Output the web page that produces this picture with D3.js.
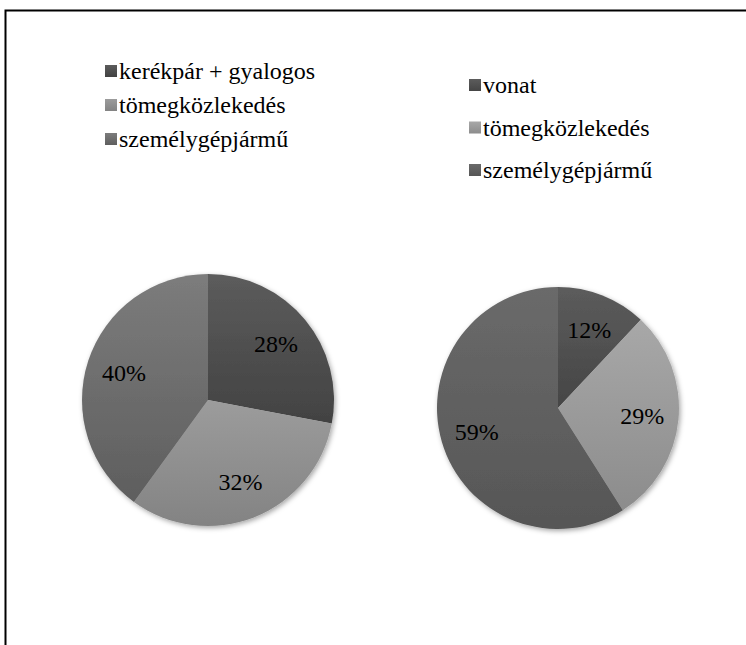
<!DOCTYPE html>
<html>
<head>
<meta charset="utf-8">
<script src="https://cdn.jsdelivr.net/npm/d3@7"></script>
<style>
html,body{margin:0;padding:0;background:#fff;}
svg{display:block;}
</style>
</head>
<body>
<script>
const leftCategories = ["kerékpár + gyalogos", "tömegközlekedés", "személygépjármű"];
const leftValues = [28, 32, 40];
const rightCategories = ["vonat", "tömegközlekedés", "személygépjármű"];
const rightValues = [12, 29, 59];
const leftColors = [["#5c5c5c", "#424242"], ["#9c9c9c", "#838383"], ["#7c7c7c", "#5e5e5e"]];
const rightColors = [["#5c5c5c", "#454545"], ["#a8a8a8", "#8c8c8c"], ["#6a6a6a", "#565656"]];

const FONT = '"Liberation Serif", serif';
const W = 746, H = 645;
const svg = d3.select("body").append("svg").attr("width", W).attr("height", H);
const defs = svg.append("defs");

const f = defs.append("filter").attr("id", "shadow").attr("x", "-20%").attr("y", "-20%").attr("width", "140%").attr("height", "140%");
f.append("feDropShadow").attr("dx", 1.5).attr("dy", 2).attr("stdDeviation", 2.5).attr("flood-color", "#000").attr("flood-opacity", 0.35);

function grad(id, c) {
  const g = defs.append("linearGradient").attr("id", id).attr("x1", 0).attr("y1", 0).attr("x2", 0).attr("y2", 1);
  g.append("stop").attr("offset", "0%").attr("stop-color", c[0]);
  g.append("stop").attr("offset", "100%").attr("stop-color", c[1]);
}

svg.append("rect").attr("x", 5.5).attr("y", 10.5).attr("width", W + 20).attr("height", H + 20)
  .attr("fill", "none").attr("stroke", "#000").attr("stroke-width", 2);

function drawPie(prefix, cats, vals, colors, cx, cy, r, legend) {
  cats.forEach((c, i) => grad(prefix + "g" + i, colors[i]));
  const pie = d3.pie().sort(null).value(d => d)(vals);
  const arc = d3.arc().innerRadius(0).outerRadius(r);
  const labArc = d3.arc().innerRadius(r * 0.7).outerRadius(r * 0.7);
  const g = svg.append("g").attr("transform", `translate(${cx},${cy})`);
  const gp = g.append("g").attr("filter", "url(#shadow)");
  gp.selectAll("path").data(pie).join("path")
    .attr("d", arc)
    .attr("fill", (d, i) => `url(#${prefix}g${i})`);
  g.selectAll("text").data(pie).join("text")
    .attr("transform", d => `translate(${labArc.centroid(d)})`)
    .attr("text-anchor", "middle")
    .attr("dy", "0.35em")
    .style("font-family", FONT)
    .style("font-size", "24px")
    .style("fill", "#000")
    .text(d => d.value + "%");
  const lg = svg.append("g");
  cats.forEach((c, i) => {
    const y = legend.y + i * legend.step;
    lg.append("rect").attr("x", legend.x).attr("y", y - 6).attr("width", 12).attr("height", 12)
      .attr("fill", `url(#${prefix}g${i})`);
    lg.append("text").attr("x", legend.x + 14).attr("y", y).attr("dy", "0.35em")
      .style("font-family", FONT).style("font-size", "24px").style("fill", "#000").text(c);
  });
}

drawPie("L", leftCategories, leftValues, leftColors, 208, 400, 126, {x: 105, y: 71, step: 34});
drawPie("R", rightCategories, rightValues, rightColors, 558, 408, 121, {x: 469, y: 85, step: 42.5});
</script>
</body>
</html>
